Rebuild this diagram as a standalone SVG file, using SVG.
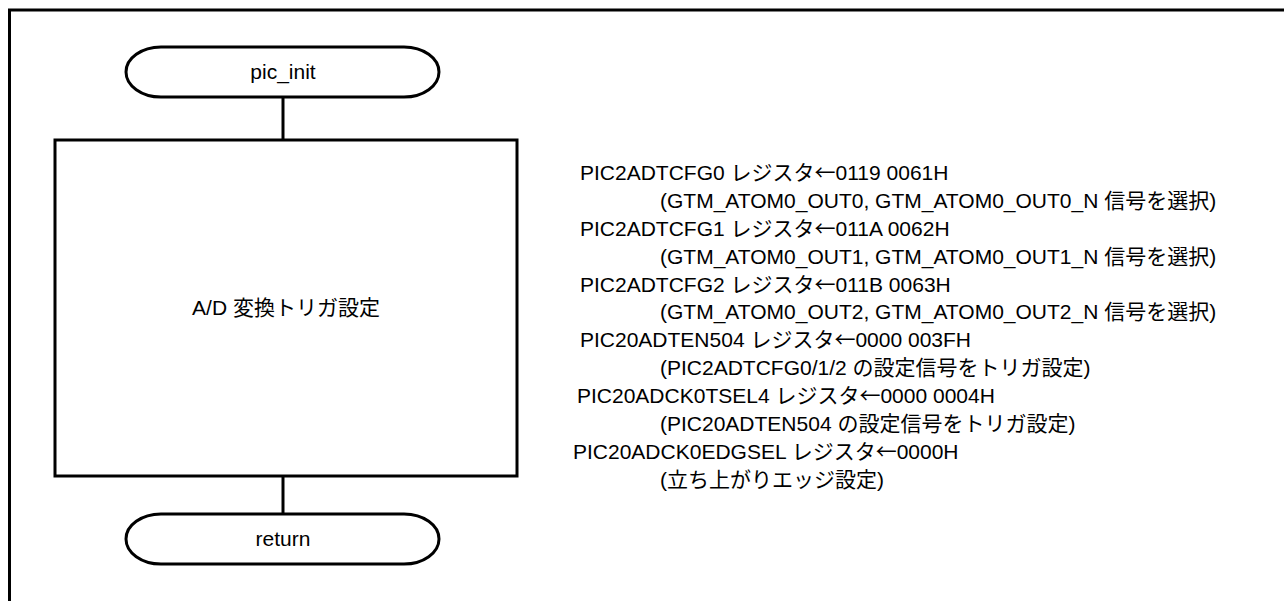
<svg xmlns="http://www.w3.org/2000/svg" width="1284" height="601" viewBox="0 0 1284 601">
<style>
.s{fill:#fff;stroke:#000;stroke-width:3}
.c{fill:none;stroke:#000;stroke-width:3}
text{font-family:"Liberation Sans","Noto Sans CJK JP",Arial,sans-serif;font-size:21px;fill:#000}
.m{text-anchor:middle}
.a{font-family:"Noto Sans CJK JP",sans-serif}
</style>
<rect width="1284" height="601" fill="#fff"/>
<path class="c" d="M9.5,601 V10 H1284"/>
<g id="connectors">
<line class="c" x1="283" y1="97" x2="283" y2="140"/>
<line class="c" x1="283" y1="476" x2="283" y2="514"/>
</g>
<g id="start">
<path class="s" d="M161,47 H404 A35,25 0 0 1 404,97 H161 A35,25 0 0 1 161,47 Z"/>
<text class="m" x="283" y="79">pic_init</text>
</g>
<g id="process">
<rect class="s" x="55" y="140" width="462" height="336"/>
<text class="m" x="286" y="315">A/D 変換トリガ設定</text>
</g>
<g id="end">
<path class="s" d="M161,514 H404 A35,25 0 0 1 404,564 H161 A35,25 0 0 1 161,514 Z"/>
<text class="m" x="283" y="546">return</text>
</g>
<g id="note">
<text x="580" y="180">PIC2ADTCFG0 レジスタ<tspan class="a">←</tspan>0119 0061H</text>
<text x="660" y="208">(GTM_ATOM0_OUT0, GTM_ATOM0_OUT0_N 信号を選択)</text>
<text x="580" y="236">PIC2ADTCFG1 レジスタ<tspan class="a">←</tspan>011A 0062H</text>
<text x="660" y="264">(GTM_ATOM0_OUT1, GTM_ATOM0_OUT1_N 信号を選択)</text>
<text x="580" y="292">PIC2ADTCFG2 レジスタ<tspan class="a">←</tspan>011B 0063H</text>
<text x="660" y="319">(GTM_ATOM0_OUT2, GTM_ATOM0_OUT2_N 信号を選択)</text>
<text x="580" y="347">PIC20ADTEN504 レジスタ<tspan class="a">←</tspan>0000 003FH</text>
<text x="660" y="375">(PIC2ADTCFG0/1/2 の設定信号をトリガ設定)</text>
<text x="577" y="403">PIC20ADCK0TSEL4 レジスタ<tspan class="a">←</tspan>0000 0004H</text>
<text x="660" y="431">(PIC20ADTEN504 の設定信号をトリガ設定)</text>
<text x="573" y="459">PIC20ADCK0EDGSEL レジスタ<tspan class="a">←</tspan>0000H</text>
<text x="660" y="487">(立ち上がりエッジ設定)</text>
</g>
</svg>
